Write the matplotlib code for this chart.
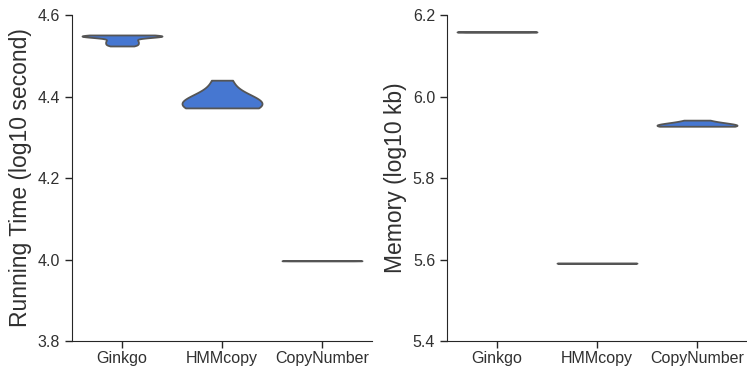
import matplotlib
matplotlib.use("Agg")
import matplotlib.pyplot as plt
import seaborn as sns
import pandas as pd

methods = ["Ginkgo", "HMMcopy", "CopyNumber"]

# log10 running time (seconds) per run
time_ginkgo = [4.524, 4.528, 4.532, 4.536, 4.540, 4.546, 4.547, 4.548, 4.549, 4.550, 4.551]
time_hmmcopy = [4.372, 4.377, 4.382, 4.387, 4.392, 4.440]
time_copynumber = [3.9965, 3.9970, 3.9975]

# log10 memory (kb) per run
mem_ginkgo = [6.1575, 6.1585, 6.1595]
mem_hmmcopy = [5.5905, 5.5910, 5.5915]
mem_copynumber = [5.927, 5.928, 5.929, 5.930, 5.931, 5.942]

time_ticks = [3.8, 4.0, 4.2, 4.4, 4.6]
mem_ticks = [5.4, 5.6, 5.8, 6.0, 6.2]

# kernel bandwidth factor per violin (style)
time_bw = [0.6, 1.35, 1.0]
mem_bw = [1.0, 1.0, 1.65]

sns.set_style("ticks")
plt.rcParams['font.family'] = ['Liberation Sans', 'DejaVu Sans']
plt.rcParams['text.color'] = '#303030'
plt.rcParams['axes.labelcolor'] = '#303030'
plt.rcParams['xtick.labelcolor'] = '#303030'
plt.rcParams['ytick.labelcolor'] = '#303030'

fig = plt.figure(figsize=(7.47, 3.66), dpi=100)
ax1 = fig.add_axes([0.0964, 0.0683, 0.4016, 0.8907])
ax2 = fig.add_axes([0.5984, 0.0683, 0.4016, 0.8907])

color = "#4677d1"
panels = [
    (ax1, [time_ginkgo, time_hmmcopy, time_copynumber], time_bw, time_ticks,
     "Running Time (log10 second)"),
    (ax2, [mem_ginkgo, mem_hmmcopy, mem_copynumber], mem_bw, mem_ticks,
     "Memory (log10 kb)"),
]
for ax, groups, bws, ticks, label in panels:
    for m, vals, bw in zip(methods, groups, bws):
        df = pd.DataFrame({"method": [m] * len(vals), "value": vals})
        sns.violinplot(data=df, x="method", y="value", order=methods, ax=ax,
                       color=color, cut=0, inner=None, density_norm="width",
                       linecolor="#555555", linewidth=1.3, bw_adjust=bw,
                       saturation=1)
    ax.set_ylim(ticks[0], ticks[-1])
    ax.set_yticks(ticks)
    ax.set_yticklabels([f"{t:.1f}" for t in ticks])
    ax.set_xlim(-0.5, 2.5)
    ax.set_xlabel("")
    ax.set_ylabel(label, fontsize=16.5)
    ax.tick_params(labelsize=11.5, length=5, width=1, color="#262626")
    ax.tick_params(axis="x", pad=2)
    sns.despine(ax=ax)

fig.savefig("out.png", dpi=100)
